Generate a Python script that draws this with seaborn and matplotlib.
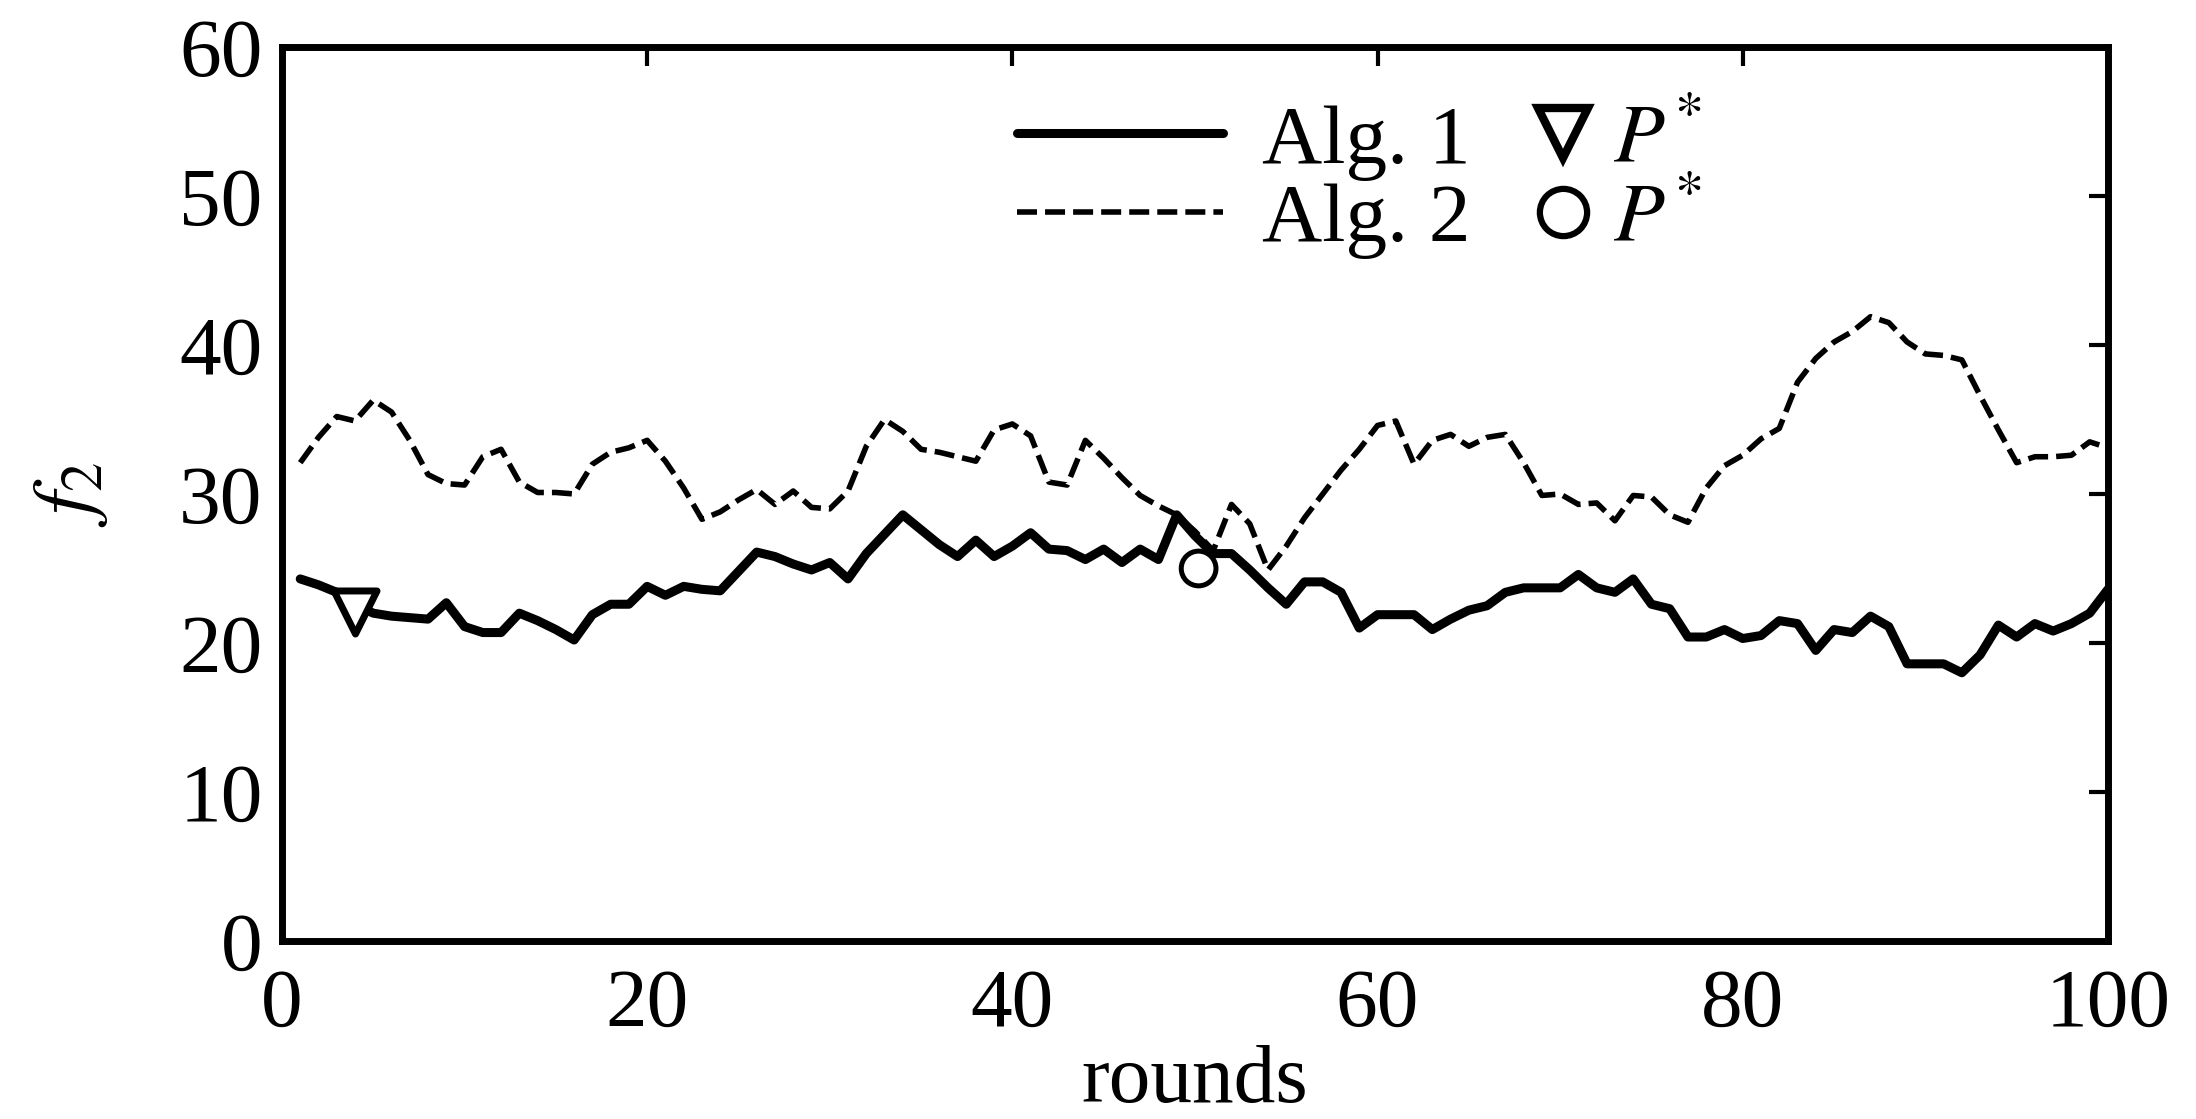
import matplotlib
matplotlib.use("Agg")
import matplotlib.pyplot as plt
import matplotlib.lines as mlines
import seaborn as sns
import pandas as pd

rounds = list(range(1, 101))
alg1 = [24.3, 23.9, 23.4, 22.6, 22.0, 21.8, 21.7, 21.6, 22.7, 21.1,
        20.7, 20.7, 22.0, 21.5, 20.9, 20.2, 21.9, 22.6, 22.6, 23.8,
        23.2, 23.8, 23.6, 23.5, 24.8, 26.1, 25.8, 25.3, 24.9, 25.4,
        24.3, 26.0, 27.3, 28.6, 27.6, 26.6, 25.8, 26.9, 25.8, 26.5,
        27.4, 26.3, 26.2, 25.6, 26.3, 25.4, 26.3, 25.6, 28.6, 27.2,
        26.0, 26.0, 24.9, 23.7, 22.6, 24.1, 24.1, 23.4, 21.0, 21.9,
        21.9, 21.9, 20.9, 21.6, 22.2, 22.5, 23.4, 23.7, 23.7, 23.7,
        24.6, 23.7, 23.4, 24.3, 22.6, 22.3, 20.4, 20.4, 20.9, 20.3,
        20.5, 21.5, 21.3, 19.5, 20.9, 20.7, 21.8, 21.1, 18.6, 18.6,
        18.6, 18.0, 19.2, 21.2, 20.4, 21.3, 20.8, 21.3, 22.0, 23.6]
alg2 = [32.1, 33.8, 35.2, 34.9, 36.3, 35.5, 33.6, 31.3, 30.7, 30.6,
        32.5, 33.0, 30.8, 30.1, 30.1, 30.0, 32.0, 32.8, 33.1, 33.6,
        32.2, 30.4, 28.3, 28.8, 29.6, 30.3, 29.3, 30.2, 29.1, 29.0,
        30.2, 33.2, 35.0, 34.2, 33.0, 32.8, 32.5, 32.2, 34.3, 34.7,
        33.9, 30.8, 30.6, 33.6, 32.4, 31.1, 29.9, 29.2, 28.6, 27.5,
        26.2, 29.3, 28.0, 24.9, 26.5, 28.4, 30.0, 31.6, 33.0, 34.6,
        34.9, 32.0, 33.6, 34.0, 33.2, 33.8, 34.0, 32.1, 29.9, 30.0,
        29.3, 29.4, 28.2, 29.9, 29.8, 28.6, 28.1, 30.4, 31.9, 32.6,
        33.7, 34.4, 37.5, 39.1, 40.2, 40.9, 41.9, 41.5, 40.2, 39.4,
        39.3, 39.0, 36.6, 34.3, 32.1, 32.5, 32.5, 32.6, 33.5, 33.1]
p1_round, p1_value = [4], [22.1]
p2_round, p2_value = [50.2], [25.0]
x_ticks = [0, 20, 40, 60, 80, 100]
y_ticks = [0, 10, 20, 30, 40, 50, 60]

sns.set_style("white")
plt.rcParams["font.family"] = ["Liberation Serif", "DejaVu Serif"]
plt.rcParams["mathtext.fontset"] = "stix"
plt.rcParams["text.color"] = "black"
plt.rcParams["axes.labelcolor"] = "black"

df = pd.DataFrame({"rounds": rounds, "alg1": alg1, "alg2": alg2})
FS = 60
DASH = (3.6, 1.45)

fig = plt.figure(figsize=(21.96, 11.19), dpi=100)
ax = fig.add_axes([0.1284, 0.1591, 0.8315, 0.7989])

sns.lineplot(data=df, x="rounds", y="alg1", color="black", lw=6.5, ax=ax)
sns.lineplot(data=df, x="rounds", y="alg2", color="black", lw=4, ax=ax)
ax.lines[-1].set_dashes(DASH)

sns.scatterplot(x=p1_round, y=p1_value, marker="v", s=31**2,
                facecolor="white", edgecolor="black", linewidth=5, ax=ax, zorder=5)
sns.scatterplot(x=p2_round, y=p2_value, marker="o", s=25**2,
                facecolor="none", edgecolor="black", linewidth=3.6, ax=ax, zorder=5)

ax.set_xlim(0, 100)
ax.set_ylim(0, 60)
ax.set_xticks(x_ticks)
ax.set_yticks(y_ticks)
ax.tick_params(direction="in", length=14, width=3, top=True, right=True,
               labelsize=FS, colors="black")
ax.tick_params(axis="x", pad=20)
ax.tick_params(axis="y", pad=14)
for s in ax.spines.values():
    s.set_linewidth(5)
    s.set_color("black")

ax.set_xlabel("rounds", fontsize=FS, labelpad=0, color="black")
ax.set_ylabel("$f_2$", fontsize=FS, labelpad=50, color="black")

h1 = mlines.Line2D([], [], color="black", lw=6.5)
h2 = mlines.Line2D([], [], color="black", lw=4, dashes=DASH)
leg1 = ax.legend([h1, h2], ["Alg. 1", "Alg. 2"], loc="upper left",
                 bbox_to_anchor=(0.4025, 0.936), frameon=False, fontsize=FS,
                 handlelength=2.47, handletextpad=0.47, labelspacing=0.03,
                 borderpad=0, borderaxespad=0, labelcolor="black")
ax.add_artist(leg1)
m1 = mlines.Line2D([], [], ls="none", marker="v", ms=36, mfc="white",
                   mec="black", mew=6)
m2 = mlines.Line2D([], [], ls="none", marker="o", ms=34, mfc="none",
                   mec="black", mew=4.5)
ax.legend([m1, m2], ["$P^{\\!*}$", "$P^{\\!*}$"], loc="upper left",
          bbox_to_anchor=(0.679, 0.936), frameon=False, fontsize=FS,
          handlelength=1.0, handletextpad=0.1, labelspacing=0.03,
          borderpad=0, borderaxespad=0, labelcolor="black")

fig.savefig("out.png", dpi=100)
